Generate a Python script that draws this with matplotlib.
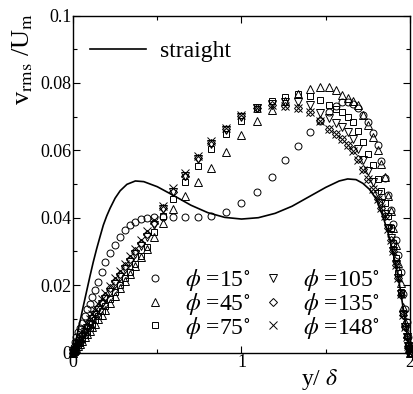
import matplotlib
matplotlib.use("Agg")
import matplotlib.pyplot as plt
from matplotlib.ticker import MultipleLocator, FixedLocator

plt.rcParams['font.family'] = ['Liberation Serif', 'DejaVu Serif']
plt.rcParams['mathtext.fontset'] = 'stix'

# wall-normal positions y/delta shared by all measured series
y_delta = [0.0, 0.005, 0.01, 0.02, 0.03, 0.04, 0.055, 0.07, 0.085, 0.1, 0.115, 0.13, 0.15, 0.17, 0.19,
           0.22, 0.25, 0.28, 0.31, 0.34, 0.37, 0.405, 0.44, 0.48, 0.535, 0.595, 0.665, 0.74, 0.82, 0.91, 1.0,
           1.09, 1.18, 1.26, 1.335, 1.405, 1.465, 1.52, 1.56, 1.595, 1.63, 1.66, 1.69, 1.72, 1.75, 1.78,
           1.81, 1.83, 1.85, 1.87, 1.885, 1.9, 1.915, 1.93, 1.945, 1.96, 1.97, 1.98, 1.99, 1.995, 2.0]

phi15 = [0.0, 0.0015, 0.003, 0.0045, 0.006, 0.0072, 0.0088, 0.0108, 0.0128, 0.0145, 0.0165, 0.0185, 0.021,
         0.024, 0.0268, 0.0295, 0.032, 0.0343, 0.0363, 0.0378, 0.0387, 0.0395, 0.04, 0.0402, 0.0403, 0.0402,
         0.0401, 0.0401, 0.0405, 0.0417, 0.0444,
         0.0475, 0.052, 0.0571, 0.0613, 0.0655, 0.0687, 0.0714, 0.073, 0.0742, 0.0743, 0.0737, 0.0725, 0.0705,
         0.0684, 0.065, 0.0616, 0.0568, 0.0517, 0.0467, 0.0422, 0.038, 0.0335, 0.029, 0.024, 0.0175, 0.013,
         0.009, 0.0045, 0.0022, 0.0]
phi45 = [0.0, 0.0003, 0.0006, 0.0012, 0.0018, 0.0025, 0.0035, 0.0045, 0.0055, 0.0065, 0.0075, 0.0085, 0.0098,
         0.0112, 0.0126, 0.0147, 0.0168, 0.019, 0.0212, 0.0234, 0.0256, 0.0282, 0.0308, 0.0342, 0.0383, 0.0425,
         0.0465, 0.0505, 0.0548, 0.0594, 0.0645,
         0.0686, 0.072, 0.0745, 0.0768, 0.0783, 0.0788, 0.0788, 0.0778, 0.0765, 0.0755, 0.0745, 0.0735, 0.0705,
         0.0675, 0.064, 0.06, 0.056, 0.052, 0.0465, 0.042, 0.037, 0.032, 0.0265, 0.0205, 0.0135, 0.009,
         0.0055, 0.0025, 0.0012, 0.0]
phi75 = [0.0, 0.0003, 0.0007, 0.0014, 0.0021, 0.0029, 0.004, 0.0051, 0.0062, 0.0073, 0.0084, 0.0095, 0.0109,
         0.0123, 0.0137, 0.0158, 0.0179, 0.02, 0.022, 0.024, 0.0262, 0.0285, 0.0313, 0.0357, 0.0405, 0.0455,
         0.0505, 0.0554, 0.0603, 0.0647, 0.0688,
         0.0722, 0.0746, 0.0759, 0.0767, 0.0762, 0.0749, 0.0733, 0.0722, 0.0713, 0.07, 0.0684, 0.0656, 0.0625,
         0.059, 0.0556, 0.0515, 0.048, 0.0445, 0.0405, 0.037, 0.0325, 0.028, 0.0235, 0.018, 0.0118, 0.008,
         0.005, 0.0022, 0.001, 0.0]
phi105 = [0.0, 0.0004, 0.0008, 0.0016, 0.0025, 0.0034, 0.0047, 0.006, 0.0073, 0.0086, 0.0099, 0.0111, 0.0127,
          0.0143, 0.0159, 0.0181, 0.0203, 0.0225, 0.0247, 0.0269, 0.0291, 0.0317, 0.0343, 0.0377, 0.0425, 0.0475,
          0.0525, 0.0575, 0.062, 0.066, 0.0698,
          0.0727, 0.0737, 0.0742, 0.0743, 0.0735, 0.0712, 0.0695, 0.068, 0.067, 0.0655, 0.0635, 0.0605, 0.057,
          0.054, 0.0505, 0.047, 0.0443, 0.0412, 0.037, 0.034, 0.0302, 0.0262, 0.0222, 0.0175, 0.0112, 0.0075,
          0.0045, 0.002, 0.001, 0.0]
phi135 = [0.0, 0.0004, 0.0009, 0.0018, 0.0028, 0.0037, 0.0051, 0.0065, 0.0079, 0.0093, 0.0106, 0.0119, 0.0135,
          0.0151, 0.0167, 0.019, 0.0212, 0.0234, 0.0256, 0.0278, 0.03, 0.0326, 0.0352, 0.0385, 0.0428, 0.0477,
          0.0525, 0.0577, 0.0622, 0.0662, 0.0702,
          0.0725, 0.0733, 0.0732, 0.0725, 0.0715, 0.069, 0.0663, 0.0648, 0.0634, 0.0615, 0.06, 0.0573, 0.0545,
          0.0515, 0.0485, 0.0455, 0.043, 0.0405, 0.0368, 0.0335, 0.03, 0.026, 0.022, 0.0172, 0.011, 0.0075,
          0.0045, 0.002, 0.001, 0.0]
phi148 = [0.0, 0.0005, 0.001, 0.002, 0.003, 0.004, 0.0055, 0.007, 0.0085, 0.01, 0.0113, 0.0126, 0.0143,
          0.016, 0.0176, 0.0198, 0.022, 0.0242, 0.0263, 0.0285, 0.0307, 0.0333, 0.036, 0.0392, 0.0436, 0.0487,
          0.0533, 0.0584, 0.0628, 0.0667, 0.0705,
          0.0727, 0.0735, 0.0732, 0.0725, 0.0715, 0.0688, 0.0662, 0.0648, 0.0634, 0.0615, 0.0598, 0.0571, 0.0543,
          0.0514, 0.0484, 0.0455, 0.043, 0.0405, 0.0365, 0.0335, 0.03, 0.026, 0.022, 0.0175, 0.011, 0.0075,
          0.0045, 0.002, 0.001, 0.0]

straight_x = [0.0, 0.02, 0.04, 0.06, 0.08, 0.1, 0.12, 0.14, 0.16, 0.18, 0.2, 0.22, 0.25, 0.28, 0.32, 0.37,
              0.42, 0.5, 0.6, 0.7, 0.8, 0.9, 1.0, 1.1, 1.2, 1.3, 1.4, 1.5, 1.58, 1.63, 1.68, 1.72, 1.76, 1.8,
              1.84, 1.87, 1.9, 1.92, 1.94, 1.96, 1.98, 2.0]
straight_y = [0.0, 0.0042, 0.0088, 0.0135, 0.018, 0.0225, 0.0268, 0.0307, 0.0343, 0.0378, 0.0405, 0.0428,
              0.0458, 0.048, 0.0499, 0.0509, 0.0507, 0.0492, 0.0465, 0.0437, 0.0415, 0.0401, 0.0396, 0.04,
              0.0413, 0.0434, 0.0462, 0.049, 0.0509, 0.0515, 0.0513, 0.0502, 0.0484, 0.0455, 0.0403, 0.0355,
              0.0295, 0.0248, 0.0195, 0.013, 0.0065, 0.0]

x_ticks = [0, 1, 2]
x_ticklabels = ['0', '1', '2']
y_ticks = [0, 0.02, 0.04, 0.06, 0.08, 0.1]
y_ticklabels = ['0', '0.02', '0.04', '0.06', '0.08', '0.1']

series = [(phi15, 'o', 5.0, r'$\phi$ =15$^{\circ}$'),
          (phi45, '^', 5.5, r'$\phi$ =45$^{\circ}$'),
          (phi75, 's', 5.0, r'$\phi$ =75$^{\circ}$'),
          (phi105, 'v', 5.5, r'$\phi$ =105$^{\circ}$'),
          (phi135, 'D', 3.8, r'$\phi$ =135$^{\circ}$'),
          (phi148, 'x', 5.5, r'$\phi$ =148$^{\circ}$')]

W, H = 413, 394
fig = plt.figure(figsize=(W / 100, H / 100), dpi=100)
ax = fig.add_axes([73 / W, 1 - 352.5 / H, (410 - 73) / W, (352.5 - 15.5) / H])

line, = ax.plot(straight_x, straight_y, color='black', lw=1.2, label='straight', zorder=2)

handles = []
for vals, mk, ms, lab in series:
    h, = ax.plot(y_delta, vals, linestyle='none', marker=mk, ms=ms, mfc='none', mec='black',
                 mew=0.7, label=lab, zorder=3, clip_on=False)
    handles.append(h)

ax.set_xlim(0, 2)
ax.set_ylim(0, 0.1)
ax.xaxis.set_major_locator(FixedLocator(x_ticks))
ax.xaxis.set_minor_locator(MultipleLocator(0.5))
ax.yaxis.set_major_locator(FixedLocator(y_ticks))
ax.yaxis.set_minor_locator(MultipleLocator(0.01))
ax.set_xticklabels(x_ticklabels)
ax.set_yticklabels(y_ticklabels)
ax.tick_params(which='both', direction='in', top=True, right=True, labelsize=13, width=0.8)
ax.tick_params(which='major', length=5, pad=1)
ax.tick_params(which='minor', length=3)
for s in ax.spines.values():
    s.set_linewidth(1.0)

ax.text(-0.15, 0.87, r'v$_{\mathrm{rms}}$ /U$_{\mathrm{m}}$', transform=ax.transAxes, rotation=90,
        ha='center', va='center', fontsize=19)
ax.text(0.733, -0.08, r'y/ $\delta$', transform=ax.transAxes, ha='center', va='center', fontsize=17)

leg1 = ax.legend(handles=[line], loc='upper left', bbox_to_anchor=(0.0, 0.975), frameon=False,
                 fontsize=17, handlelength=2.4, handletextpad=0.6, borderaxespad=0.3)
ax.add_artist(leg1)
ax.legend(handles=handles, ncol=2, loc='lower right', bbox_to_anchor=(0.91, 0.035), frameon=False,
          fontsize=17, handlelength=1.0, handletextpad=0.77, columnspacing=0.47, labelspacing=-0.1,
          borderaxespad=0.0, borderpad=0.0)

fig.savefig('out.png', dpi=100)
